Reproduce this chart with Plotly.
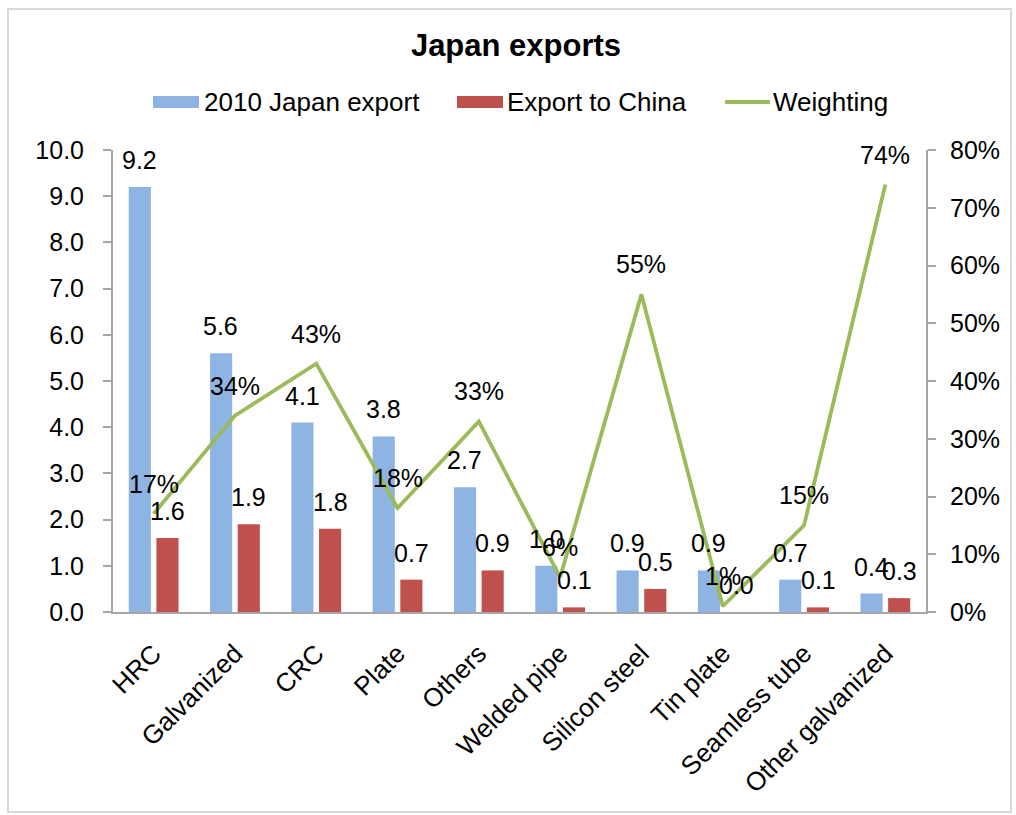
import plotly.graph_objects as go

# Product categories and series
categories = ["HRC", "Galvanized", "CRC", "Plate", "Others", "Welded pipe",
              "Silicon steel", "Tin plate", "Seamless tube", "Other galvanized"]
japan_export = [9.2, 5.6, 4.1, 3.8, 2.7, 1.0, 0.9, 0.9, 0.7, 0.4]
export_to_china = [1.6, 1.9, 1.8, 0.7, 0.9, 0.1, 0.5, 0.0, 0.1, 0.3]
weighting_pct = [17, 34, 43, 18, 33, 6, 55, 1, 15, 74]

left_ticks = [0, 1, 2, 3, 4, 5, 6, 7, 8, 9, 10]
right_ticks = [0, 10, 20, 30, 40, 50, 60, 70, 80]

BLUE = "#8DB4E2"
RED = "#C0504D"
GREEN = "#9BBB59"
AXIS = "#A6A6A6"
FONT = "Liberation Sans, Arial, sans-serif"

W, H = 1016, 815
L, R, T, B = 113, 926, 150, 612  # plot area edges in pixels


def px(x):
    return (x - L) / (R - L)


def py(y):
    return (B - y) / (B - T)


fig = go.Figure()
fig.add_trace(go.Bar(x=categories, y=japan_export, name="2010 Japan export",
                     marker=dict(color=BLUE, line_width=0), showlegend=False))
fig.add_trace(go.Bar(x=categories, y=export_to_china, name="Export to China",
                     marker=dict(color=RED, line_width=0), showlegend=False))
fig.add_trace(go.Scatter(x=categories, y=weighting_pct, name="Weighting", yaxis="y2",
                         mode="lines", line=dict(color=GREEN, width=3.8),
                         showlegend=False))

label_font = dict(size=25, color="black", family=FONT)
annotations = []
for c, v in zip(categories, japan_export):
    annotations.append(dict(x=c, y=v, xref="x", yref="y", text=f"{v:.1f}",
                            showarrow=False, xshift=-14, yshift=27,
                            yanchor="middle", font=label_font))
for c, v in zip(categories, export_to_china):
    annotations.append(dict(x=c, y=v, xref="x", yref="y", text=f"{v:.1f}",
                            showarrow=False, xshift=14, yshift=27,
                            yanchor="middle", font=label_font))
for c, w in zip(categories, weighting_pct):
    annotations.append(dict(x=c, y=w, xref="x", yref="y2", text=f"{w}%",
                            showarrow=False, yshift=30,
                            yanchor="middle", font=label_font))

# Legend drawn as swatches with labels
legend_items = [
    ("rect", BLUE, 153, 199, "2010 Japan export", 202),
    ("rect", RED, 457, 503, "Export to China", 505),
    ("line", GREEN, 725, 770, "Weighting", 771),
]
shapes = []
for kind, color, x0, x1, label, tx in legend_items:
    if kind == "rect":
        shapes.append(dict(type="rect", xref="paper", yref="paper",
                           x0=px(x0), x1=px(x1), y0=py(108), y1=py(96),
                           fillcolor=color, line_width=0))
    else:
        shapes.append(dict(type="line", xref="paper", yref="paper",
                           x0=px(x0), x1=px(x1), y0=py(102), y1=py(102),
                           line=dict(color=color, width=3.8)))
    annotations.append(dict(x=px(tx), y=py(102), xref="paper", yref="paper",
                            text=label, showarrow=False, xanchor="left", yanchor="middle",
                            font=dict(size=26, color="black", family=FONT)))

# Outer chart frame
shapes.append(dict(type="rect", xref="paper", yref="paper",
                   x0=px(8), x1=px(1011), y0=py(812), y1=py(9),
                   line=dict(color="#D9D9D9", width=2), fillcolor="rgba(0,0,0,0)",
                   layer="below"))

fig.update_layout(
    width=W, height=H,
    margin=dict(l=L, r=W - R, t=T, b=H - B, autoexpand=False),
    paper_bgcolor="white", plot_bgcolor="white",
    font=dict(family=FONT, color="black"),
    title=dict(text="<b>Japan exports</b>", xref="container", x=516 / W,
               xanchor="center", y=1 - 45 / H, yanchor="middle",
               font=dict(size=31, color="black", family=FONT)),
    barmode="group", bargap=0.32, bargroupgap=0.2,
    showlegend=False,
    annotations=annotations, shapes=shapes,
    xaxis=dict(showline=True, linecolor=AXIS, linewidth=2, ticks="",
               tickangle=-45, tickfont=dict(size=26), showgrid=False,
               ticklabelstandoff=14),
    yaxis=dict(range=[0, 10], tickvals=left_ticks, tickformat=".1f",
               ticks="outside", ticklen=8, tickcolor=AXIS, tickwidth=1.5,
               showline=True, linecolor=AXIS, linewidth=2, showgrid=False,
               zeroline=False, tickfont=dict(size=25), ticklabelstandoff=14),
    yaxis2=dict(range=[0, 80], tickvals=right_ticks,
                ticktext=[f"{t}%" for t in right_ticks],
                overlaying="y", side="right",
                ticks="outside", ticklen=8, tickcolor=AXIS, tickwidth=1.5,
                showline=True, linecolor=AXIS, linewidth=2, showgrid=False,
                zeroline=False, tickfont=dict(size=25), ticklabelstandoff=9),
)

fig.write_html("out.html")
